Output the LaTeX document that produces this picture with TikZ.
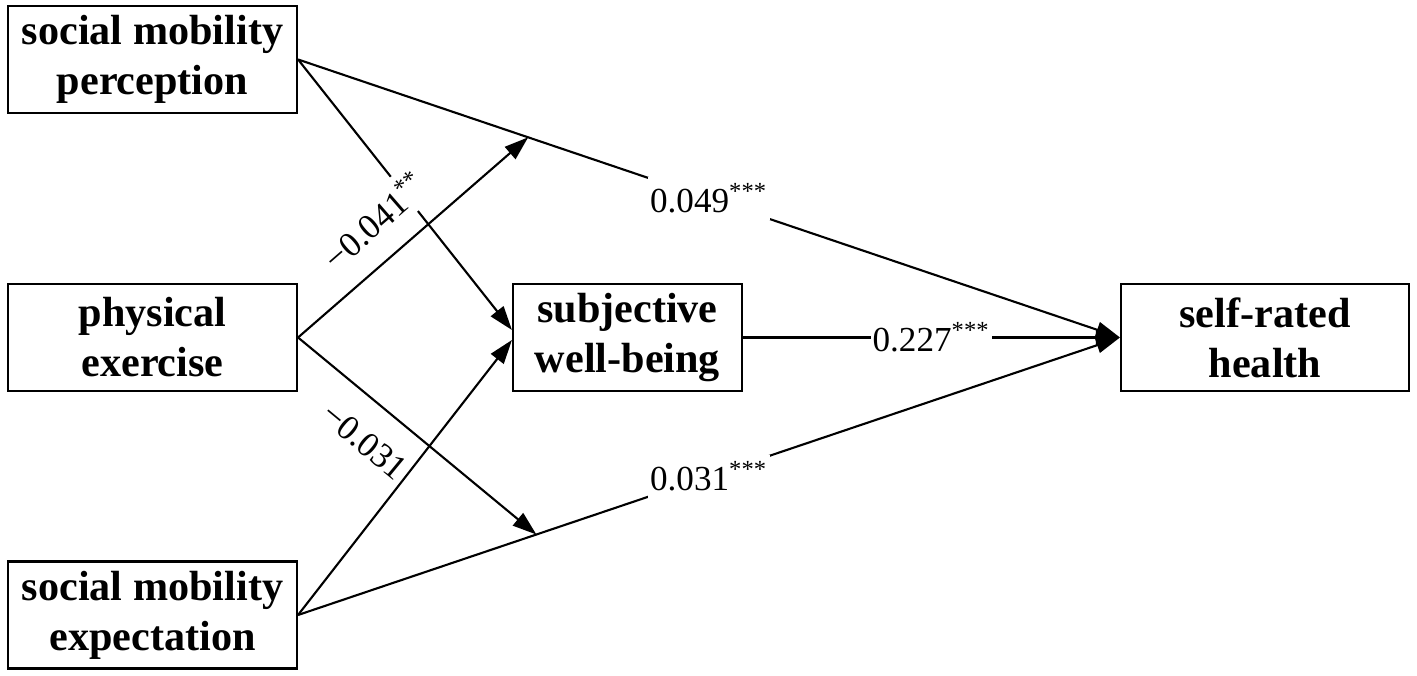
\documentclass[tikz,border=0pt]{standalone}
\usepackage{fontspec}
\setmainfont{Liberation Serif}
\usetikzlibrary{arrows.meta,calc}

\begin{document}
\begin{tikzpicture}
  [line width=0.6pt,>={Triangle[length=2.4mm,width=1.6mm]},
   every node/.style={font=\fontsize{10}{12}\selectfont},
   var/.style={draw, inner sep=0pt, minimum height=1.07cm, align=center,
               font=\fontsize{12}{14.2}\selectfont\bfseries},
   coef/.style={fill=white, inner xsep=0.5pt, inner ysep=2pt}]
  \useasboundingbox (0,0) rectangle (14.17,6.76);

  \node[var, minimum width=2.89cm] (smp) at (1.525,6.165) {social mobility\\perception};
  \node[var, minimum width=2.89cm] (pe)  at (1.525,3.385) {physical\\exercise};
  \node[var, minimum width=2.89cm] (sme) at (1.525,0.61)  {social mobility\\expectation};
  \node[var, minimum width=2.29cm] (swb) at (6.275,3.385) {subjective\\well-being};
  \node[var, minimum width=2.88cm] (srh) at (12.65,3.385) {self-rated\\health};

  \coordinate (up) at ($(smp.east)!0.28!(srh.west)$);
  \coordinate (lo) at ($(sme.east)!0.29!(srh.west)$);

  \draw[->] (smp.east) -- ([yshift=0.75mm]swb.west);
  \draw[->] (sme.east) -- ([yshift=-0.25mm]swb.west);

  \foreach \from/\lab in {smp/0.049\textsuperscript{***},swb/0.227\textsuperscript{***},sme/0.031\textsuperscript{***}}
    \draw[->] (\from.east) -- node[coef]{\lab} (srh.west);

  \draw[->] (pe.east) -- node[coef, sloped, above=4.5pt, pos=0.44]{−0.041\textsuperscript{**}} (up);
  \draw[->] (pe.east) -- node[coef, fill=none, sloped, below=5pt, pos=0.38]{−0.031} (lo);

\end{tikzpicture}
\end{document}
